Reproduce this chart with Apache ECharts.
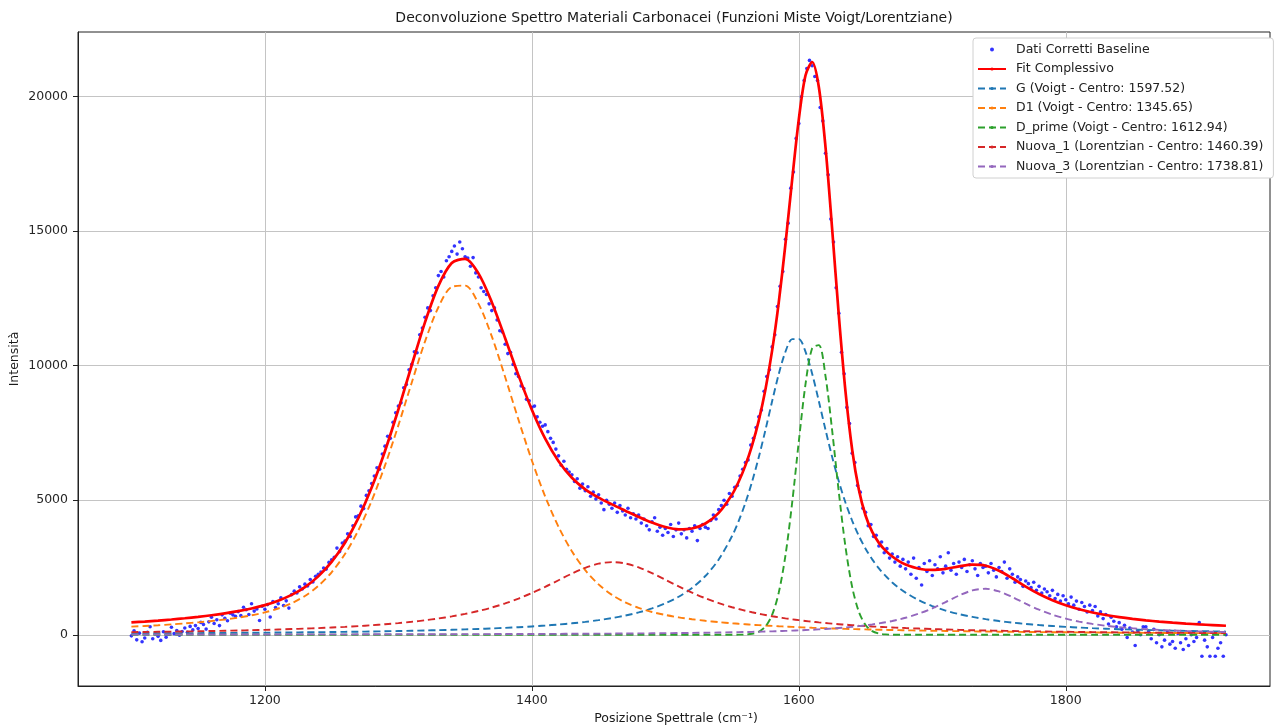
<!DOCTYPE html>
<html>
<head>
<meta charset="utf-8">
<script src="https://cdn.jsdelivr.net/npm/echarts@6/dist/echarts.min.js"></script>
<style>
  html, body { margin: 0; padding: 0; background: #ffffff; }
  #chart { width: 1282px; height: 727px; }
</style>
</head>
<body>
<div id="chart"></div>
<script>
// Measured spectrum (baseline corrected): one reading every 2 cm^-1 from 1100
const spectrumStart = 1100;
const spectrumStep = 2;
const spectrumIntensity = [
  -40,150,-190,60,-260,-120,90,300,-150,40,
  -60,-210,110,-90,30,280,40,160,-20,120,
  250,90,310,180,340,230,460,380,210,480,
  650,420,560,340,740,610,520,800,740,690,
  860,710,1020,930,750,1150,880,960,530,1060,
  950,1120,660,1230,1010,1150,1370,1090,1260,990,
  1490,1620,1550,1780,1700,1880,1810,2050,1960,2170,
  2250,2330,2480,2440,2690,2790,2880,3220,3090,3410,
  3480,3750,3650,4050,4380,4420,4780,4690,5180,5350,
  5620,5900,6210,6150,6720,7010,7380,7300,7900,8250,
  8500,8620,9180,9300,9850,10050,10520,10480,11150,11400,
  11800,12150,12050,12600,12900,13350,13500,13300,13900,14050,
  14250,14450,14150,14600,14350,14050,14000,13700,14020,13450,
  13300,12900,12760,12650,12300,12050,12150,11700,11300,11250,
  10800,10450,10500,10050,9700,9600,9250,9150,8750,8700,
  8450,8500,8100,7900,7750,7800,7550,7300,7150,6900,
  6650,6300,6450,6150,6050,5950,5700,5800,5450,5600,
  5350,5500,5150,5300,5050,5200,4900,4650,5000,4850,
  4700,4900,4550,4800,4600,4450,4700,4350,4500,4300,
  4450,4150,4300,4050,3900,4200,4350,3850,4000,3700,
  3950,3800,4100,3650,3900,4150,3750,3900,3600,3950,
  3850,4050,3500,3950,4100,4000,3950,4250,4450,4300,
  4650,4800,5000,4850,5250,5150,5480,5550,5900,6150,
  6400,6500,7050,7300,7700,8100,8350,9050,9600,9850,
  10700,11150,12200,12950,13500,14700,15300,16600,17200,18450,
  19000,20000,20600,21050,21350,21150,20750,20600,19600,19100,
  17900,17100,15450,14600,12900,11950,10500,9700,8450,7850,
  6750,6400,5550,5300,4700,4550,4050,4100,3650,3700,
  3300,3450,3050,3200,2850,3000,2700,2900,2550,2800,
  2450,2700,2250,2850,2100,2500,1850,2650,2350,2750,
  2200,2600,2450,2900,2300,2550,3050,2400,2650,2250,
  2700,2500,2800,2350,2600,2750,2450,2200,2650,2500,
  2550,2300,2650,2400,2150,2500,2350,2700,2100,2450,
  2250,1950,2150,2050,1800,2000,1900,1750,1950,1650,
  1800,1550,1700,1600,1450,1650,1350,1500,1250,1450,
  1300,1150,1400,1100,1250,950,1200,1050,850,1100,
  900,1050,700,850,600,750,400,650,500,300,
  450,200,350,-100,250,100,-400,150,0,300,
  300,100,-150,200,-300,0,-450,-200,100,-350,
  -250,-500,50,-300,-550,-150,-400,0,-250,-100,
  450,-800,-200,-450,-800,-100,-800,-500,-300,-800,
  0
];

// Wavenumbers at which the fitted curves are tabulated (finer around the G / D' bands)
const fitX = [
  1100,1110,1120,1130,1140,1150,1160,1170,1180,1190,
  1200,1210,1220,1230,1240,1250,1260,1270,1280,1290,
  1300,1310,1320,1330,1340,1350,1360,1370,1380,1390,
  1400,1410,1420,1430,1440,1450,1460,1470,1480,1490,
  1500,1510,1520,1530,1540,
  1550,1555,1560,1565,1570,1575,1580,1585,1590,1595,1600,1605,1610,1615,
  1620,1625,1630,1635,1640,1645,1650,1655,1660,1665,1670,1675,1680,
  1690,1700,1710,1720,1730,1740,1750,1760,1770,1780,1790,1800,
  1810,1820,1830,1840,1850,1860,1870,1880,1890,1900,1910,1920
];

const fitTotal = [
  457,491,526,566,613,665,724,794,877,977,
  1102,1266,1481,1773,2170,2706,3417,4332,5470,6831,
  8372,10018,11623,12970,13818,13975,13432,12361,11024,9641,
  8366,7289,6449,5836,5404,5096,4845,4611,4380,4169,
  4005,3920,3950,4135,4528,
  5211,5695,6297,7040,7961,9114,10560,12365,14528,16906,19159,20788,21284,20362,
  18128,15069,11853,9026,6869,5389,4432,3821,3416,3125,2907,2740,2611,
  2455,2408,2450,2541,2607,2567,2382,2100,1792,1513,1282,1095,
  947,829,733,655,590,535,490,450,416,386,360,335
];

const bandG = [
  50,52,54,56,59,62,64,67,71,74,
  78,82,86,91,96,102,108,114,122,130,
  138,148,159,171,184,199,216,234,256,281,
  309,342,380,425,478,542,619,713,830,978,
  1166,1412,1739,2183,2799,
  3669,4232,4902,5689,6597,7611,8677,9696,10520,10988,10990,10525,9703,8685,
  7619,6605,5696,4907,4237,3673,3199,2802,2468,2185,1945,1740,1565,
  1282,1067,900,769,664,579,509,451,402,360,325,294,
  268,245,225,207,191,177,165,153,143,134,126,118
];

const bandD1 = [
  301,326,353,385,421,462,511,568,637,722,
  830,976,1171,1441,1813,2321,3000,3880,4979,6294,
  7784,9370,10906,12175,12931,12979,12309,11090,9578,7989,
  6479,5138,4010,3103,2399,1871,1483,1201,997,847,
  735,647,577,518,469,
  426,407,390,373,357,343,329,316,304,292,281,271,261,252,
  243,235,227,220,212,206,199,193,187,181,176,171,166,
  157,148,140,133,126,120,114,109,104,99,95,91,
  87,83,80,77,74,71,68,66,64,61,59,57
];

const bandDPrime = [
  0,0,0,0,0,0,0,0,0,0,
  0,0,0,0,0,0,0,0,0,0,
  0,0,0,0,0,0,0,0,0,0,
  0,0,0,0,0,0,0,0,0,0,
  0,0,0,0,0,
  1,3,10,36,112,306,738,1570,2951,4898,7183,9305,10649,10766,
  9615,7585,5287,3255,1770,851,361,135,45,13,3,1,0,
  0,0,0,0,0,0,0,0,0,0,0,0,
  0,0,0,0,0,0,0,0,0,0,0,0
];

const bandNuova1 = [
  98,104,110,116,123,131,139,148,158,170,
  182,196,211,228,247,269,294,322,353,390,
  432,481,538,604,682,774,883,1012,1164,1343,
  1548,1778,2026,2272,2489,2642,2700,2650,2503,2290,
  2045,1797,1565,1358,1177,
  1023,956,893,835,782,734,689,648,610,575,542,513,485,459,
  436,413,393,374,356,339,324,309,296,283,271,260,249,
  230,212,197,183,170,159,149,140,131,124,117,110,
  104,99,93,89,84,80,77,73,70,67,64,61
];

const bandNuova3 = [
  8,9,9,9,10,10,10,11,11,11,
  12,12,13,13,14,14,15,16,16,17,
  18,19,20,20,21,23,24,25,26,28,
  30,31,33,36,38,41,43,47,50,54,
  59,64,69,76,83,
  92,97,102,107,113,120,127,135,143,153,163,174,186,200,
  215,231,250,270,294,320,349,382,420,463,512,568,631,
  786,981,1213,1456,1647,1709,1610,1400,1155,930,745,600,
  488,402,335,282,241,207,180,158,139,124,111,99
];

const xTicks = [1200, 1400, 1600, 1800];
const yTicks = [0, 5000, 10000, 15000, 20000];

const seriesNames = {
  data: 'Dati Corretti Baseline',
  fit: 'Fit Complessivo',
  g: 'G (Voigt - Centro: 1597.52)',
  d1: 'D1 (Voigt - Centro: 1345.65)',
  dPrime: 'D_prime (Voigt - Centro: 1612.94)',
  nuova1: 'Nuova_1 (Lorentzian - Centro: 1460.39)',
  nuova3: 'Nuova_3 (Lorentzian - Centro: 1738.81)'
};

const FONT = '"DejaVu Sans", Verdana, sans-serif';

const pairs = (xs, ys) => ys.map((y, i) => [xs[i], y]);
const spectrumPoints = spectrumIntensity.map((y, i) => [spectrumStart + i * spectrumStep, y]);
const plainNumber = (v) => String(v);

function dashedBand(name, values, color) {
  return {
    name: name,
    type: 'line',
    data: pairs(fitX, values),
    symbol: 'none',
    smooth: 0.3,
    lineStyle: { color: color, width: 1.9, type: [7, 4] },
    itemStyle: { color: color },
    emphasis: { disabled: true },
    silent: true
  };
}

const chart = echarts.init(document.getElementById('chart'), null, { renderer: 'canvas' });

chart.setOption({
  animation: false,
  backgroundColor: '#ffffff',
  grid: {
    left: 78, right: 12, top: 32, bottom: 41,
    show: true, borderColor: '#222222', borderWidth: 1, backgroundColor: 'transparent'
  },
  xAxis: {
    type: 'value',
    min: 1060, max: 1953,
    axisLine: { show: true, onZero: false, lineStyle: { color: '#222222', width: 1 } },
    axisTick: { show: true, customValues: xTicks, length: 5, lineStyle: { color: '#222222' } },
    axisLabel: { customValues: xTicks, formatter: plainNumber, margin: 8, fontSize: 12.5, color: '#262626', fontFamily: FONT },
    splitLine: { show: true, lineStyle: { color: '#c4c4c4', width: 1 } }
  },
  yAxis: {
    type: 'value',
    min: -1905, max: 22405,
    axisLine: { show: true, onZero: false, lineStyle: { color: '#222222', width: 1 } },
    axisTick: { show: true, customValues: yTicks, length: 5, lineStyle: { color: '#222222' } },
    axisLabel: { customValues: yTicks, formatter: plainNumber, margin: 10, fontSize: 12.5, color: '#262626', fontFamily: FONT },
    splitLine: { show: true, lineStyle: { color: '#c4c4c4', width: 1 } }
  },
  legend: {
    orient: 'vertical',
    left: 973, top: 38,
    padding: [4, 10, 4, 4],
    itemWidth: 28, itemHeight: 4, itemGap: 4.5,
    backgroundColor: '#ffffff',
    borderColor: '#d0d0d0', borderWidth: 1, borderRadius: 3,
    textStyle: { fontSize: 12.5, fontFamily: FONT, color: '#222222', lineHeight: 15, padding: [0, 0, 0, 5] },
    data: [
      { name: seriesNames.data, icon: 'circle' },
      seriesNames.fit, seriesNames.g, seriesNames.d1,
      seriesNames.dPrime, seriesNames.nuova1, seriesNames.nuova3
    ]
  },
  graphic: [
    {
      type: 'text', x: 674, y: 18, z: 10,
      style: {
        text: 'Deconvoluzione Spettro Materiali Carbonacei (Funzioni Miste Voigt/Lorentziane)',
        fontSize: 14, fontFamily: FONT, fill: '#1a1a1a', align: 'center', verticalAlign: 'middle'
      }
    },
    {
      type: 'text', x: 676, y: 719, z: 10,
      style: {
        text: 'Posizione Spettrale (cm\u207B\u00B9)',
        fontSize: 12.5, fontFamily: FONT, fill: '#1a1a1a', align: 'center', verticalAlign: 'middle'
      }
    },
    {
      type: 'text', x: 15, y: 359, rotation: Math.PI / 2, z: 10,
      style: {
        text: 'Intensit\u00E0',
        fontSize: 12.5, fontFamily: FONT, fill: '#1a1a1a', align: 'center', verticalAlign: 'middle'
      }
    }
  ],
  series: [
    {
      name: seriesNames.data,
      type: 'scatter',
      data: spectrumPoints,
      symbol: 'circle',
      symbolSize: 3.6,
      itemStyle: { color: '#0000ff' },
      emphasis: { disabled: true },
      silent: true
    },
    {
      name: seriesNames.fit,
      type: 'line',
      data: pairs(fitX, fitTotal),
      symbol: 'none',
      smooth: 0.3,
      lineStyle: { color: '#ff0000', width: 2.7 },
      itemStyle: { color: '#ff0000' },
      emphasis: { disabled: true },
      silent: true
    },
    dashedBand(seriesNames.g, bandG, '#1f77b4'),
    dashedBand(seriesNames.d1, bandD1, '#ff7f0e'),
    dashedBand(seriesNames.dPrime, bandDPrime, '#2ca02c'),
    dashedBand(seriesNames.nuova1, bandNuova1, '#d62728'),
    dashedBand(seriesNames.nuova3, bandNuova3, '#9467bd')
  ]
});
</script>
</body>
</html>
